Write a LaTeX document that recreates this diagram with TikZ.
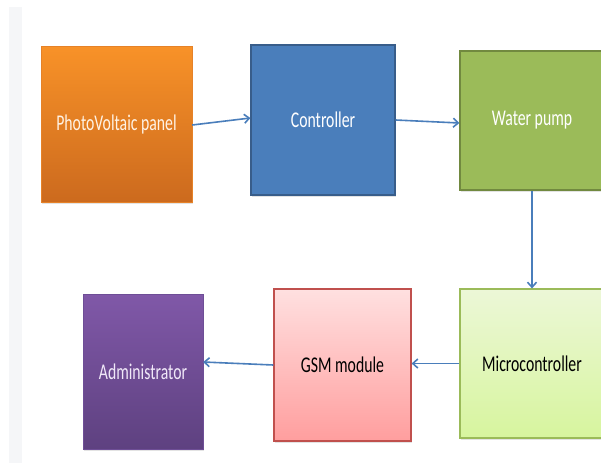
\documentclass[tikz,border=0pt]{standalone}
\usepackage{fontspec}
\usepackage{graphicx}
\setmainfont{Carlito}
\usetikzlibrary{shadows,arrows.meta}
\newcommand{\sqztxt}[1]{\raisebox{-2pt}{\scalebox{0.7}[1]{#1}}}
\definecolor{arrowblue}{HTML}{4A7EBB}
\tikzset{
  blk/.style={rectangle, line width=1.2pt, inner sep=0pt, font=\fontsize{22.5}{26}\selectfont,
    drop shadow={opacity=0.22, shadow xshift=1pt, shadow yshift=-2pt}},
  conn/.style={draw=arrowblue, line width=1.6pt, ->, >={Straight Barb[length=5pt,width=9pt]}},
}
\begin{document}
\begin{tikzpicture}[x=1pt,y=-1pt]
\useasboundingbox (0,0) rectangle (601,463);
\fill[white] (0,0) rectangle (601,463);
\clip (0,0) rectangle (601,463);
\fill[color={rgb,255:red,245;green,246;blue,248}] (9,7) rectangle (22,463);

\node[blk, minimum width=151pt, minimum height=156pt, top color={rgb,255:red,248;green,146;blue,40}, bottom color={rgb,255:red,204;green,106;blue,30}, draw={rgb,255:red,230;green,130;blue,40}, line width=0.4pt, text={rgb,255:red,255;green,242;blue,228}] (pv) at (116.5,124) {\sqztxt{PhotoVoltaic panel}};
\node[blk, minimum width=144pt, minimum height=150pt, fill={rgb,255:red,74;green,126;blue,187}, draw={rgb,255:red,56;green,93;blue,138}, text=white] (ctrl) at (323,120) {\sqztxt{Controller}};
\node[blk, minimum width=144pt, minimum height=139pt, fill={rgb,255:red,155;green,187;blue,89}, draw={rgb,255:red,113;green,137;blue,63}, text=white] (wp) at (532,120.5) {\sqztxt{Water pump}};
\node[blk, minimum width=144pt, minimum height=149pt, top color={rgb,255:red,236;green,247;blue,215}, bottom color={rgb,255:red,215;green,245;blue,158}, draw={rgb,255:red,155;green,187;blue,89}, text=black] (mc) at (532,363.5) {\sqztxt{Microcontroller}};
\node[blk, minimum width=137pt, minimum height=152pt, top color={rgb,255:red,255;green,224;blue,224}, bottom color={rgb,255:red,255;green,158;blue,158}, draw={rgb,255:red,192;green,80;blue,77}, text=black] (gsm) at (342.5,365) {\sqztxt{GSM module}};
\node[blk, minimum width=120pt, minimum height=155pt, top color={rgb,255:red,128;green,88;blue,168}, bottom color={rgb,255:red,94;green,65;blue,128}, draw={rgb,255:red,110;green,78;blue,150}, line width=0.4pt, text={rgb,255:red,240;green,232;blue,248}] (adm) at (143,371.5) {\sqztxt{Administrator}};

\draw[conn] ([yshift=-1pt]pv.east) -- ([yshift=2pt]ctrl.west);
\draw[conn] (ctrl.east) -- ([yshift=-2.5pt]wp.west);
\draw[conn] (wp.south) -- (mc.north);
\draw[conn] (mc.west) -- ([yshift=1.5pt]gsm.east);
\draw[conn] (gsm.west) -- ([yshift=9.5pt]adm.east);
\end{tikzpicture}
\end{document}
